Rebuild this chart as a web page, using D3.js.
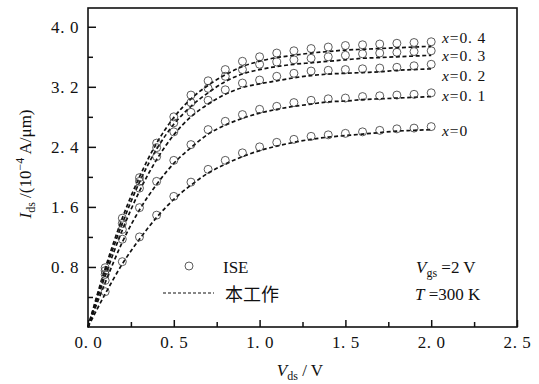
<!DOCTYPE html>
<html>
<head>
<meta charset="utf-8">
<script src="https://cdn.jsdelivr.net/npm/d3@7"></script>
<style>
  body { margin: 0; background: #fff; }
  text { font-family: "Liberation Serif", "Times New Roman", serif; fill: #111; }
  .cjk { font-family: "Noto Sans CJK SC", sans-serif; }
</style>
</head>
<body>
<svg id="canvas" width="539" height="384"></svg>
<script>
// ISE simulation points (Vds step 0.1 V)
let vIse = [0.1, 0.2, 0.3, 0.4, 0.5, 0.6, 0.7, 0.8, 0.9, 1.0, 1.1, 1.2, 1.3, 1.4, 1.5, 1.6, 1.7, 1.8, 1.9, 2.0]
let iseX0  = [0.45, 0.85, 1.18, 1.47, 1.72, 1.91, 2.08, 2.20, 2.30, 2.38, 2.44, 2.48, 2.52, 2.54, 2.56, 2.58, 2.60, 2.62, 2.63, 2.65]
let iseX01 = [0.60, 1.15, 1.57, 1.92, 2.20, 2.41, 2.61, 2.72, 2.81, 2.88, 2.92, 2.97, 3.00, 3.02, 3.03, 3.05, 3.06, 3.07, 3.08, 3.10]
let iseX02 = [0.68, 1.28, 1.83, 2.25, 2.58, 2.84, 3.00, 3.14, 3.23, 3.27, 3.32, 3.36, 3.39, 3.40, 3.41, 3.42, 3.43, 3.44, 3.46, 3.48]
let iseX03 = [0.73, 1.36, 1.92, 2.37, 2.70, 2.97, 3.16, 3.32, 3.41, 3.48, 3.51, 3.54, 3.56, 3.58, 3.60, 3.62, 3.63, 3.64, 3.65, 3.66]
let iseX04 = [0.77, 1.43, 1.97, 2.43, 2.78, 3.07, 3.26, 3.41, 3.52, 3.58, 3.63, 3.66, 3.69, 3.71, 3.73, 3.74, 3.75, 3.76, 3.77, 3.78]

// model (this work) curves
let vModel = [0, 0.1, 0.2, 0.3, 0.4, 0.5, 0.6, 0.7, 0.8, 0.9, 1.0, 1.1, 1.2, 1.3, 1.4, 1.5, 1.6, 1.7, 1.8, 1.9, 2.0]
let modX0  = [0, 0.44, 0.84, 1.17, 1.46, 1.70, 1.89, 2.05, 2.17, 2.27, 2.35, 2.41, 2.46, 2.50, 2.53, 2.55, 2.57, 2.59, 2.61, 2.62, 2.63]
let modX01 = [0, 0.59, 1.13, 1.56, 1.90, 2.18, 2.39, 2.57, 2.69, 2.78, 2.85, 2.90, 2.94, 2.97, 3.00, 3.01, 3.03, 3.04, 3.05, 3.06, 3.07]
let modX02 = [0, 0.68, 1.29, 1.81, 2.23, 2.56, 2.80, 2.97, 3.10, 3.19, 3.24, 3.28, 3.32, 3.35, 3.37, 3.38, 3.39, 3.40, 3.42, 3.43, 3.44]
let modX03 = [0, 0.74, 1.38, 1.93, 2.37, 2.70, 2.94, 3.12, 3.27, 3.37, 3.43, 3.47, 3.50, 3.52, 3.54, 3.56, 3.58, 3.59, 3.60, 3.61, 3.62]
let modX04 = [0, 0.78, 1.45, 2.00, 2.45, 2.79, 3.04, 3.22, 3.36, 3.47, 3.54, 3.59, 3.62, 3.65, 3.67, 3.69, 3.70, 3.71, 3.72, 3.73, 3.74]

let curveNames = ['x=0', 'x=0. 1', 'x=0. 2', 'x=0. 3', 'x=0. 4']
let labelI = [2.63, 3.09, 3.36, 3.63, 3.86]

let xMajor = [0, 0.5, 1.0, 1.5, 2.0, 2.5]
let xMinor = [0.25, 0.75, 1.25, 1.75, 2.25]
let yMajor = [0.8, 1.6, 2.4, 3.2, 4.0]
let yMinor = [0.4, 1.2, 2.0, 2.8, 3.6]

let iseSets = [iseX0, iseX01, iseX02, iseX03, iseX04]
let modSets = [modX0, modX01, modX02, modX03, modX04]

let svg = d3.select('#canvas')

let xScale = d3.scaleLinear().domain([0, 2.5]).range([88, 517])
let yScale = d3.scaleLinear().domain([0, 4.25]).range([327, 8])

let fmt = (d) => d3.format('.1f')(d).replace('.', '. ')

// ticks (inward)
let xAxis = d3.axisBottom(xScale).tickValues(xMajor).tickSize(-7).tickFormat(fmt).tickPadding(9)
let xAxisMinor = d3.axisBottom(xScale).tickValues(xMinor).tickSize(-5).tickFormat('')
let yAxis = d3.axisLeft(yScale).tickValues(yMajor).tickSize(-8).tickFormat(fmt).tickPadding(9)
let yAxisMinor = d3.axisLeft(yScale).tickValues(yMinor).tickSize(-5).tickFormat('')

svg.append('g').attr('transform', 'translate(0,327)').call(xAxis)
svg.append('g').attr('transform', 'translate(0,327)').call(xAxisMinor)
svg.append('g').attr('transform', 'translate(88,0)').call(yAxis)
svg.append('g').attr('transform', 'translate(88,0)').call(yAxisMinor)

svg.selectAll('.domain').remove()
svg.selectAll('.tick line').attr('stroke', '#111').attr('stroke-width', 1.5)
svg.selectAll('.tick text')
  .style('font-family', '"Liberation Serif", serif')
  .style('font-size', '17px')
  .style('letter-spacing', '0.6px')
  .attr('fill', '#111')

// frame
svg.append('rect')
  .attr('x', xScale(0)).attr('y', yScale(4.25))
  .attr('width', xScale(2.5) - xScale(0))
  .attr('height', yScale(0) - yScale(4.25))
  .attr('fill', 'none').attr('stroke', '#111').attr('stroke-width', 1.6)

// model dashed lines
let line = d3.line()
  .x((d) => xScale(d[0]))
  .y((d) => yScale(d[1]))
  .curve(d3.curveMonotoneX)

modSets.forEach((set) => {
  svg.append('path')
    .datum(vModel.map((v, i) => [v, set[i]]))
    .attr('d', line)
    .attr('fill', 'none')
    .attr('stroke', '#111')
    .attr('stroke-width', 1.7)
    .attr('stroke-dasharray', '4,2.6')
})

// ISE circles
iseSets.forEach((set) => {
  svg.append('g').selectAll('circle')
    .data(vIse.map((v, i) => [v, set[i]]))
    .enter()
    .append('circle')
    .attr('cx', (d) => xScale(d[0]))
    .attr('cy', (d) => yScale(d[1]) - 1.5)
    .attr('r', 4)
    .attr('fill', 'none')
    .attr('stroke', '#333')
    .attr('stroke-width', 0.8)
})

// curve labels
curveNames.forEach((name, i) => {
  let parts = name.split('=')
  let t = svg.append('text')
    .attr('x', 442)
    .attr('y', yScale(labelI[i]) + 6)
    .style('font-size', '15.5px')
    .style('letter-spacing', '0.9px')
  t.append('tspan').style('font-style', 'italic').text(parts[0])
  t.append('tspan').text('=' + parts[1])
})

// legend
svg.append('circle')
  .attr('cx', 189).attr('cy', 266).attr('r', 4)
  .attr('fill', 'none').attr('stroke', '#333').attr('stroke-width', 0.8)
svg.append('text').attr('x', 223).attr('y', 273).style('font-size', '17px').text('ISE')
svg.append('line')
  .attr('x1', 163).attr('x2', 214).attr('y1', 293).attr('y2', 293)
  .attr('stroke', '#111').attr('stroke-width', 1.2).attr('stroke-dasharray', '3,2')
svg.append('text').attr('class', 'cjk').attr('x', 225).attr('y', 301)
  .style('font-size', '18px').text('本工作')

// conditions
let t1 = svg.append('text').attr('x', 416).attr('y', 273).style('font-size', '17px')
t1.append('tspan').style('font-style', 'italic').text('V')
t1.append('tspan').attr('dy', 4).style('font-size', '12px').text('gs')
t1.append('tspan').attr('dy', -4).text(' =2 V')

let t2 = svg.append('text').attr('x', 415).attr('y', 300).style('font-size', '17px')
t2.append('tspan').style('font-style', 'italic').text('T')
t2.append('tspan').text(' =300 K')

// axis titles
let xt = svg.append('text').attr('x', 300).attr('y', 376)
  .attr('text-anchor', 'middle').style('font-size', '17px')
xt.append('tspan').style('font-style', 'italic').text('V')
xt.append('tspan').attr('dy', 4).style('font-size', '12px').text('ds')
xt.append('tspan').attr('dy', -4).text(' / V')

let yt = svg.append('text')
  .attr('transform', 'translate(31,164) rotate(-90)')
  .attr('text-anchor', 'middle').style('font-size', '17px')
yt.append('tspan').style('font-style', 'italic').text('I')
yt.append('tspan').attr('dy', 4).style('font-size', '12px').text('ds')
yt.append('tspan').attr('dy', -4).text(' /(10')
yt.append('tspan').attr('dy', -7).style('font-size', '12px').text('−4')
yt.append('tspan').attr('dy', 7).text(' A/μm)')
</script>
</body>
</html>
